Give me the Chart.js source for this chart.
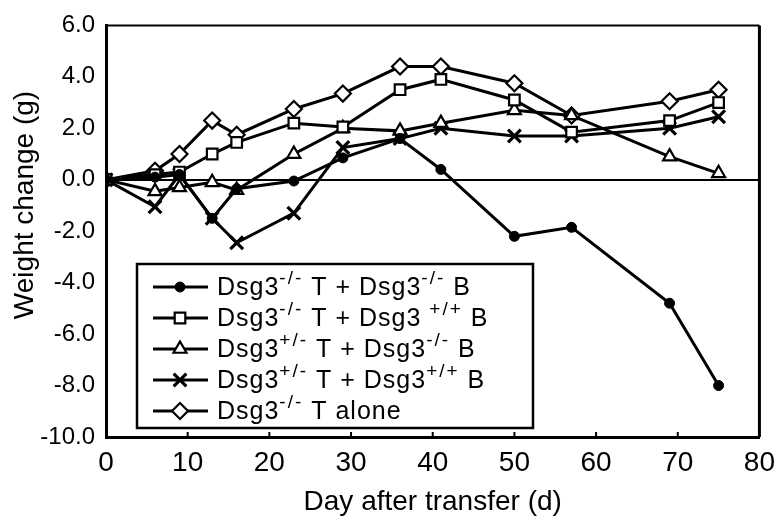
<html>
<head>
<script src="https://cdn.jsdelivr.net/npm/chart.js"></script>
<style> body { margin: 0; background: #fff } #wrap { width: 784px; height: 521px } </style>
</head>
<body>
<div id="wrap"><canvas id="myChart" width="784" height="521"></canvas></div>

<script>
// days after transfer
days = [0, 6, 9, 13, 16, 23, 29, 36, 41, 50, 57, 69, 75]

// weight change (g) per group
koT_koB   = [0, 0.1, 0.2, -1.5, -0.35, -0.05, 0.85, 1.6, 0.4, -2.2, -1.85, -4.8, -8.0]
koT_wtB   = [0, 0.2, 0.3, 1.0, 1.45, 2.2, 2.05, 3.5, 3.9, 3.1, 1.85, 2.3, 3.0]
hetT_koB  = [0, -0.45, -0.3, -0.1, -0.4, 1.0, 2.0, 1.9, 2.2, 2.7, 2.5, 0.9, 0.25]
hetT_wtB  = [0, -1.05, 0.2, -1.5, -2.45, -1.3, 1.25, 1.6, 2.0, 1.7, 1.7, 2.0, 2.45]
koT_alone = [0, 0.35, 1.0, 2.3, 1.75, 2.75, 3.35, 4.4, 4.4, 3.75, 2.5, 3.05, 3.5]

xTicks = { min: 0, max: 80, step: 10 }
yTicks = { min: -10, max: 6, step: 2 }

// legend text, [text, superscript?]
legendRows = [
  [["Dsg3"], ["-/-", 1], [" T + Dsg3"], ["-/-", 1], [" B"]],
  [["Dsg3"], ["-/-", 1], [" T + Dsg3 "], ["+/+", 1], [" B"]],
  [["Dsg3"], ["+/-", 1], [" T + Dsg3"], ["-/-", 1], [" B"]],
  [["Dsg3"], ["+/-", 1], [" T + Dsg3"], ["+/+", 1], [" B"]],
  [["Dsg3"], ["-/-", 1], [" T alone"]]
]

FONT = "Liberation Sans, Arial, sans-serif"

function pts(arr) {
  return days.map((d, i) => ({ x: d, y: arr[i] }))
}

function ds(label, arr, style, radius, fill, bw) {
  return {
    label: label,
    data: pts(arr),
    borderColor: '#000',
    borderWidth: 3,
    pointStyle: style,
    pointRadius: radius,
    pointBackgroundColor: fill,
    pointBorderColor: '#000',
    pointBorderWidth: bw,
    tension: 0
  }
}

datasets = [
  ds('Dsg3-/- T + Dsg3-/- B', koT_koB, 'circle', 5, '#000', 1),
  ds('Dsg3-/- T + Dsg3+/+ B', koT_wtB, 'rect', 7.5, '#fff', 2.2),
  ds('Dsg3+/- T + Dsg3-/- B', hetT_koB, 'triangle', 7.5, '#fff', 2.2),
  ds('Dsg3+/- T + Dsg3+/+ B', hetT_wtB, 'crossRot', 9, '#fff', 3.2),
  ds('Dsg3-/- T alone', koT_alone, 'rectRot', 8, '#fff', 2.2)
]

function richText(ctx, segs, x, y) {
  for (const s of segs) {
    if (s[1]) {
      ctx.font = "19px " + FONT
      ctx.letterSpacing = "2px"
      ctx.wordSpacing = "0px"
      ctx.fillText(s[0], x, y - 9)
    } else {
      ctx.font = "25px " + FONT
      ctx.letterSpacing = "1px"
      ctx.wordSpacing = "4px"
      ctx.fillText(s[0], x, y)
    }
    x += ctx.measureText(s[0]).width
  }
  ctx.letterSpacing = "0px"
  ctx.wordSpacing = "0px"
}

framePlugin = {
  id: 'frame',
  afterDraw(chart) {
    const ctx = chart.ctx, a = chart.chartArea
    const xs = chart.scales.x
    ctx.save()
    ctx.strokeStyle = '#000'
    // top and right edges of the box
    ctx.lineWidth = 2
    ctx.beginPath(); ctx.moveTo(a.left, a.top); ctx.lineTo(a.right, a.top); ctx.stroke()
    ctx.lineWidth = 3
    ctx.beginPath(); ctx.moveTo(a.right, a.top); ctx.lineTo(a.right, a.bottom); ctx.stroke()
    // small inner ticks on the x axis
    ctx.lineWidth = 2
    for (let v = xTicks.min + xTicks.step; v < xTicks.max; v += xTicks.step) {
      const px = xs.getPixelForValue(v)
      ctx.beginPath(); ctx.moveTo(px, a.bottom); ctx.lineTo(px, a.bottom - 5); ctx.stroke()
    }

    // y axis title
    ctx.fillStyle = '#000'
    ctx.font = "28px " + FONT
    ctx.textAlign = 'center'
    ctx.textBaseline = 'middle'
    ctx.translate(25, 205)
    ctx.rotate(-Math.PI / 2)
    ctx.fillText('Weight change (g)', 0, 0)
    ctx.restore()

    // legend box
    ctx.save()
    const L = 137, T = 264, R = 533, B = 428
    ctx.fillStyle = '#fff'
    ctx.fillRect(L, T, R - L, B - T)
    ctx.strokeStyle = '#000'
    ctx.lineWidth = 2.5
    ctx.strokeRect(L, T, R - L, B - T)
    datasets.forEach((d, i) => {
      const y = 287 + i * 31
      ctx.lineWidth = 3
      ctx.strokeStyle = '#000'
      ctx.beginPath(); ctx.moveTo(153, y); ctx.lineTo(208, y); ctx.stroke()
      ctx.fillStyle = d.pointBackgroundColor
      ctx.lineWidth = d.pointBorderWidth
      Chart.helpers.drawPoint(ctx, { pointStyle: d.pointStyle, radius: d.pointRadius, borderWidth: d.pointBorderWidth, rotation: 0 }, 180, y)
      ctx.fillStyle = '#000'
      ctx.textAlign = 'left'
      ctx.textBaseline = 'middle'
      richText(ctx, legendRows[i], 217, y + 1)
    })
    ctx.restore()
  }
}

const config = {
  type: 'line',
  data: { datasets: datasets },
  options: {
    responsive: false,
    animation: false,
    layout: { padding: { top: 22, right: 21, left: 0, bottom: 0 } },
    plugins: { legend: { display: false }, tooltip: { enabled: false } },
    scales: {
      x: {
        type: 'linear',
        min: xTicks.min, max: xTicks.max,
        afterFit: s => { s.height = 84 },
        ticks: { stepSize: xTicks.step, autoSkip: false, maxRotation: 0, color: '#000', padding: 9, font: { size: 28, family: FONT } },
        grid: { drawOnChartArea: false, drawTicks: false },
        border: { display: true, color: '#000', width: 3 },
        title: { display: true, text: 'Day after transfer (d)', color: '#000', font: { size: 28, family: FONT }, padding: { top: 0, bottom: 2 } }
      },
      y: {
        min: yTicks.min, max: yTicks.max,
        afterFit: s => { s.width = 106 },
        ticks: { stepSize: yTicks.step, color: '#000', padding: 11, font: { size: 24, family: FONT }, callback: v => v.toFixed(1) },
        grid: { drawTicks: false, color: c => c.tick && c.tick.value === 0 ? '#000' : 'rgba(0,0,0,0)', lineWidth: 2 },
        border: { display: true, color: '#000', width: 3 }
      }
    }
  },
  plugins: [framePlugin]
}

const myChart = new Chart(document.getElementById('myChart'), config)
</script>
</body>
</html>
